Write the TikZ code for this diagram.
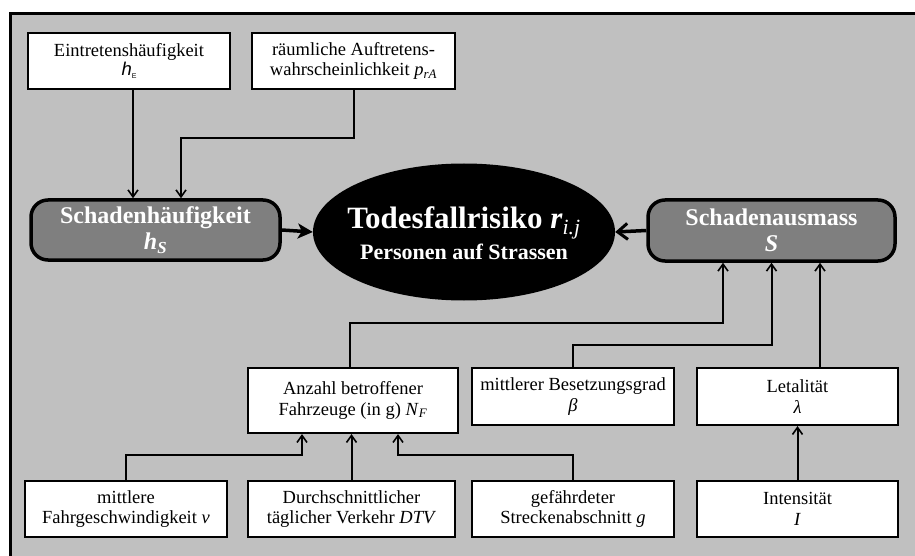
\documentclass[tikz,border=0pt]{standalone}
\usepackage{fontspec}
\setmainfont{Liberation Serif}
\newfontfamily\arialfont{Liberation Sans}
\usetikzlibrary{arrows.meta,shapes.geometric}
\definecolor{panelgray}{HTML}{C0C0C0}
\definecolor{keygray}{HTML}{7F7F7F}
\tikzset{
  infobox/.style={draw=black, line width=2.2pt, fill=white, rectangle, inner sep=0pt,
    align=center, font=\fontsize{18.5}{20.5}\selectfont},
  keybox/.style={draw=black, line width=3.5pt, fill=keygray, rectangle, rounded corners=17pt,
    inner sep=0pt, align=center, text=white, font=\bfseries\fontsize{24}{26}\selectfont},
  centre/.style={ellipse, fill=black, inner sep=0pt},
  feed/.style={line width=2pt, -{Straight Barb[length=7pt,width=10pt,line width=1.6pt]}},
  bigfeed/.style={line width=3.5pt, -{Stealth[length=15pt,width=15pt,inset=4pt]}},
  bigfeedb/.style={line width=3.5pt, -{Straight Barb[length=10pt,width=16pt,line width=3pt]}},
}
\begin{document}
\begin{tikzpicture}[x=1pt,y=-1pt]
\useasboundingbox (0,0) rectangle (915,556);
% panel with frame on top and left
\fill[panelgray] (10,14) rectangle (915,556);
\draw[line width=3pt] (10,556) -- (10,14) -- (915,14);

% input boxes, top row
\node[infobox, minimum width=202pt, minimum height=56pt] (E) at (129,61)
  {Eintretenshäufigkeit\\[-1pt]{\arialfont\itshape h}\raisebox{-3pt}{\arialfont\fontsize{7}{7}\selectfont E}};
\node[infobox, minimum width=203pt, minimum height=56pt] (rA) at (353.5,61)
  {räumliche Auftretens-\\wahrscheinlichkeit \textit{p}\textsubscript{\textit{rA}}};

% main factors
\node[keybox, minimum width=249pt, minimum height=60pt] (hS) at (155.5,230)
  {Schadenhäufigkeit\\\textit{h}\textsubscript{\textit{S}}};
\node[keybox, minimum width=247pt, minimum height=61pt] (S) at (771.5,230.5)
  {Schadenausmass\\\textit{S}};

% central risk: black ellipse with its caption on top
\node[centre, minimum width=302pt, minimum height=137pt] (R) at (464,232) {};
\node[text=white, align=center, inner sep=0pt] (Rtext) at ([yshift=-1pt]R.center)
  {{\bfseries\fontsize{31}{33}\selectfont Todesfallrisiko \textit{r}\textsubscript{\textit{\mdseries i.j}}}\\[4pt]
   {\bfseries\fontsize{22}{24}\selectfont Personen auf Strassen}};

% consequence inputs
\node[infobox, minimum width=210pt, minimum height=65pt] (NF) at (353,400.5)
  {Anzahl betroffener\\Fahrzeuge (in g) \textit{N}\textsubscript{\textit{F}}};
\node[infobox, minimum width=202pt, minimum height=57pt] (beta) at (573,396.5)
  {mittlerer Besetzungsgrad\\\textit{β}};
\node[infobox, minimum width=201pt, minimum height=57pt] (lam) at (797.5,396.5)
  {Letalität\\\textit{λ}};

% bottom row
\node[infobox, minimum width=202pt, minimum height=56pt] (v) at (126,509)
  {mittlere\\Fahrgeschwindigkeit \textit{v}};
\node[infobox, minimum width=207pt, minimum height=56pt] (DTV) at (351.5,509)
  {Durchschnittlicher\\täglicher Verkehr \textit{DTV}};
\node[infobox, minimum width=202pt, minimum height=56pt] (g) at (573,509)
  {gefährdeter\\Streckenabschnitt \textit{g}};
\node[infobox, minimum width=201pt, minimum height=56pt] (I) at (797.5,509)
  {Intensität\\\textit{I}};

% connectors into Schadenhäufigkeit
\draw[feed] ([xshift=4pt]E.south) -- ([xshift=-22.5pt]hS.north);
\draw[feed] (rA.south) |- (181,138) -- ([xshift=25.5pt]hS.north);

% main arrows into the risk
\draw[bigfeed] (hS.east) -- (R.west);
\draw[bigfeedb] (S.west) -- (R.east);

% connectors into Schadenausmass
\draw[feed] ([xshift=-3pt]NF.north) |- (723,323) -- ([xshift=-48.5pt]S.south);
\draw[feed] (beta.north) |- (771.5,345) -- (S.south);
\draw[feed] ([xshift=22.5pt]lam.north) -- ([xshift=48.5pt]S.south);

% connectors into Letalität and Anzahl betroffener Fahrzeuge
\draw[feed] (I.north) -- (lam.south);
\draw[feed] (v.north) |- (302,455) -- ([xshift=-51pt]NF.south);
\draw[feed] (DTV.north) -- (DTV.north |- NF.south);
\draw[feed] (g.north) |- (398,455) -- ([xshift=45pt]NF.south);
\end{tikzpicture}
\end{document}
